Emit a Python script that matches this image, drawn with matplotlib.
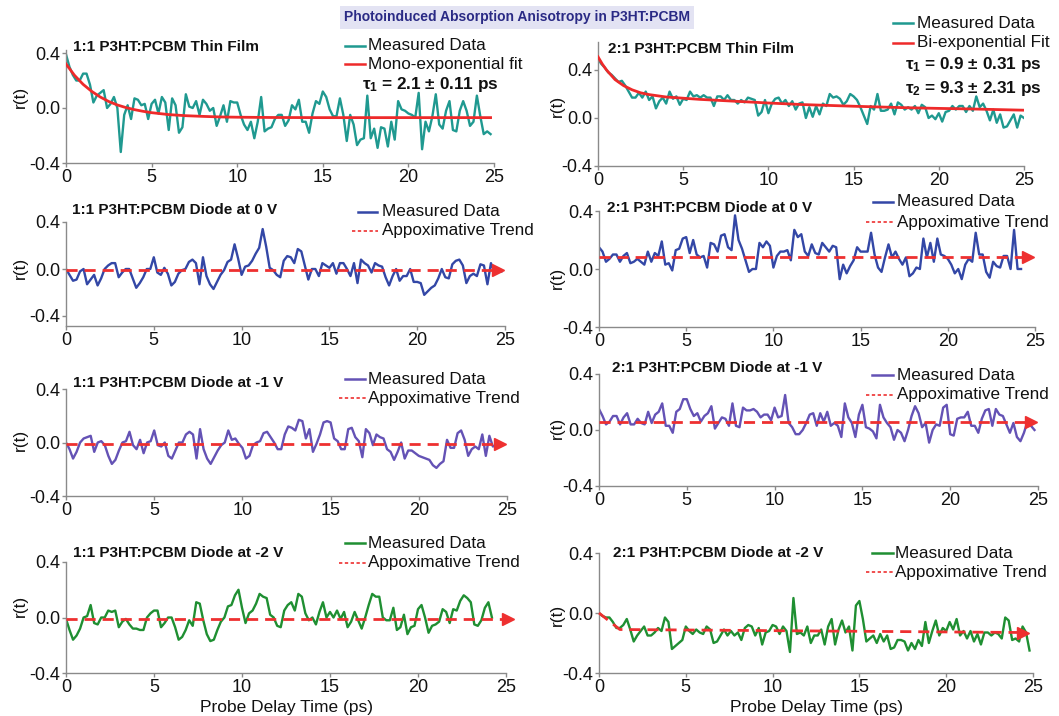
import numpy as np
import matplotlib
matplotlib.use("Agg")
import matplotlib.pyplot as plt
from matplotlib.lines import Line2D

plt.rcParams['font.family'] = ['Liberation Sans', 'DejaVu Sans']
plt.rcParams['axes.unicode_minus'] = False
plt.rcParams['mathtext.fontset'] = 'custom'
plt.rcParams['mathtext.rm'] = 'Liberation Sans'
plt.rcParams['mathtext.bf'] = 'Liberation Sans:bold'
plt.rcParams['mathtext.it'] = 'Liberation Sans:italic'

# ---------------- data ----------------
DT = 0.2  # sampling step of the measured traces (ps)

film11_r = [0.39, 0.30, 0.24, 0.20, 0.20, 0.25, 0.25, 0.17, 0.04, 0.09,
            0.11, 0.13, 0.00, 0.03, 0.08, 0.00, -0.32, -0.05, 0.02, -0.08,
            0.07, 0.06, 0.02, 0.03, -0.08, 0.03, 0.06, -0.04, 0.08, 0.04,
            -0.16, 0.07, 0.02, -0.18, -0.14, 0.10, 0.01, 0.00, 0.05, -0.05,
            0.06, 0.03, -0.02, 0.00, -0.13, -0.06, 0.02, -0.10, 0.05, 0.04,
            0.04, -0.05, -0.12, -0.16, -0.10, -0.22, -0.10, 0.08, -0.17, -0.15,
            -0.14, -0.08, -0.05, -0.05, -0.13, -0.09, 0.02, -0.01, 0.06, -0.10,
            -0.10, -0.18, -0.04, 0.05, 0.03, 0.12, 0.08, -0.01, -0.06, -0.06,
            0.07, -0.05, -0.24, -0.05, -0.12, -0.27, -0.23, -0.22, 0.09, -0.22,
            -0.15, -0.29, -0.14, -0.15, -0.28, -0.10, -0.23, 0.05, -0.01, -0.02,
            -0.04, -0.05, -0.07, 0.11, -0.30, -0.10, -0.17, -0.06, 0.10, -0.12,
            -0.15, -0.02, 0.05, -0.16, -0.17, -0.02, 0.05, -0.02, -0.13, -0.10,
            0.09, -0.06, -0.19, -0.17, -0.19]
fit11_t = [0, 0.5, 1, 1.5, 2, 2.5, 3, 3.5, 4, 4.5, 5, 6, 7, 8, 9, 10, 12, 15, 20, 24.8]
fit11_r = [0.32, 0.237, 0.172, 0.121, 0.080, 0.047, 0.022, 0.003, -0.012, -0.024,
           -0.034, -0.048, -0.056, -0.061, -0.065, -0.067, -0.069, -0.070, -0.070, -0.070]

film21_r = [0.49, 0.45, 0.42, 0.38, 0.36, 0.33, 0.30, 0.31, 0.27, 0.22,
            0.17, 0.17, 0.21, 0.17, 0.22, 0.15, 0.18, 0.08, 0.14, 0.17,
            0.12, 0.22, 0.16, 0.18, 0.11, 0.16, 0.15, 0.22, 0.18, 0.19,
            0.17, 0.19, 0.17, 0.17, 0.10, 0.18, 0.18, 0.15, 0.19, 0.15,
            0.15, 0.12, 0.15, 0.13, 0.17, 0.16, 0.15, 0.02, 0.05, 0.15,
            0.04, 0.12, 0.16, 0.17, 0.12, 0.15, 0.10, 0.14, 0.07, 0.12,
            0.13, 0.00, 0.09, 0.01, 0.10, 0.03, 0.12, 0.10, 0.20, 0.17,
            0.18, 0.16, 0.11, 0.14, 0.20, 0.18, 0.15, 0.09, 0.02, -0.05,
            0.10, 0.07, 0.20, 0.06, 0.06, 0.07, 0.12, 0.03, 0.13, 0.11,
            0.07, 0.09, 0.07, 0.10, 0.04, 0.11, 0.09, 0.00, 0.02, -0.01,
            0.04, -0.03, 0.05, 0.06, 0.10, 0.07, 0.10, 0.10, 0.05, 0.10,
            0.06, 0.18, 0.09, 0.12, 0.06, -0.02, 0.07, -0.04, 0.03, -0.08,
            -0.07, -0.02, 0.03, -0.08, 0.02, 0.00]
fit21_t = [0, 0.25, 0.5, 0.75, 1, 1.5, 2, 2.5, 3, 4, 5, 6, 8, 10, 12, 15, 18, 20, 22, 25]
fit21_r = [0.51, 0.45, 0.40, 0.36, 0.32, 0.27, 0.235, 0.21, 0.195, 0.175,
           0.165, 0.155, 0.14, 0.125, 0.112, 0.098, 0.086, 0.080, 0.075, 0.065]

diode11_0V_r = [0.0, -0.05, -0.10, -0.09, -0.02, 0.0, -0.13, -0.09, -0.05, -0.14,
                -0.08, 0.0, 0.03, 0.05, 0.05, -0.07, -0.03, 0.0, 0.0, -0.08,
                -0.16, -0.12, -0.07, 0.0, 0.0, 0.10, -0.03, -0.05, 0.01, -0.04,
                -0.14, -0.11, -0.04, -0.01, 0.0, 0.06, 0.08, 0.05, -0.13, 0.10,
                -0.06, -0.13, -0.17, -0.11, -0.05, -0.01, 0.06, 0.08, 0.21, 0.09,
                -0.05, 0.02, 0.03, 0.07, 0.13, 0.18, 0.34, 0.19, 0.01, -0.01,
                -0.05, -0.07, 0.07, 0.11, 0.10, 0.05, 0.17, 0.15, 0.03, -0.09,
                0.0, 0.0, -0.06, 0.05, 0.03, 0.01, 0.05, -0.04, 0.05, 0.05,
                0.0, -0.06, 0.05, -0.12, 0.08, 0.05, 0.03, -0.03, 0.05, 0.03,
                0.02, -0.07, -0.14, -0.06, 0.0, -0.10, -0.06, -0.06, 0.0, -0.11,
                -0.11, -0.12, -0.22, -0.19, -0.16, -0.14, -0.08, 0.0, -0.07, -0.08,
                0.04, 0.07, 0.08, 0.03, -0.12, -0.06, -0.04, -0.06, 0.04, 0.03,
                -0.13, 0.05, -0.03, -0.01, -0.02]
diode11_0V_trend_t = [0, 24.6]
diode11_0V_trend_r = [-0.01, -0.01]

diode21_0V_r = [0.15, 0.12, 0.05, 0.07, 0.10, 0.10, 0.05, 0.09, 0.11, 0.04,
                0.05, 0.07, 0.05, 0.03, 0.12, 0.05, 0.11, 0.09, 0.19, 0.03,
                0.04, -0.01, 0.13, 0.14, 0.21, 0.22, 0.11, 0.20, 0.10, 0.08,
                0.09, 0.01, 0.18, 0.17, 0.12, 0.23, 0.24, 0.15, 0.13, 0.37,
                0.20, 0.14, 0.06, -0.02, 0.0, 0.0, 0.18, 0.15, 0.19, 0.16,
                0.01, 0.09, 0.12, 0.12, 0.13, 0.06, 0.27, 0.22, 0.24, 0.12,
                0.09, 0.17, 0.11, 0.10, 0.18, 0.15, 0.12, 0.16, 0.15, -0.07,
                0.03, -0.03, 0.02, 0.06, 0.15, 0.12, 0.12, 0.12, 0.25, 0.10,
                0.01, -0.02, 0.08, 0.17, 0.08, 0.12, 0.07, 0.03, 0.08, -0.05,
                -0.03, 0.01, 0.0, 0.21, 0.08, 0.18, 0.05, 0.21, 0.10, 0.09,
                0.07, 0.03, -0.03, 0.0, -0.07, 0.03, 0.07, 0.05, 0.25, 0.10,
                0.10, -0.02, -0.06, 0.05, 0.02, 0.01, 0.09, 0.09, 0.0, 0.27,
                0.0, 0.0]
diode21_0V_trend_t = [0, 24.6]
diode21_0V_trend_r = [0.08, 0.08]

diode11_m1V_r = [0.0, -0.05, -0.12, -0.07, 0.0, 0.03, 0.04, 0.05, -0.07, 0.0,
                 0.01, -0.02, -0.10, -0.16, -0.13, -0.06, 0.0, 0.01, 0.08, -0.02,
                 -0.05, 0.02, -0.08, 0.0, 0.01, 0.09, -0.02, -0.03, 0.0, -0.10,
                 -0.12, -0.06, 0.0, 0.0, 0.06, 0.08, 0.06, -0.12, 0.10, -0.05,
                 -0.12, -0.16, -0.11, -0.06, -0.02, 0.0, 0.09, 0.02, 0.03, -0.01,
                 -0.04, -0.12, -0.10, -0.02, 0.0, 0.01, 0.07, 0.08, 0.04, 0.0,
                 -0.05, -0.05, 0.06, 0.12, 0.11, 0.09, 0.17, 0.16, 0.03, 0.10,
                 -0.07, -0.01, 0.06, 0.15, 0.16, 0.15, 0.03, 0.01, -0.05, -0.05,
                 0.10, 0.11, 0.04, 0.01, -0.11, 0.10, 0.07, -0.02, 0.06, 0.04,
                 0.03, -0.05, -0.07, -0.13, -0.07, 0.0, -0.12, -0.06, -0.06, -0.08,
                 -0.10, -0.11, -0.12, -0.13, -0.17, -0.19, -0.16, -0.14, 0.02, -0.04,
                 -0.04, 0.07, 0.09, 0.02, -0.10, -0.05, -0.03, -0.05, 0.06, -0.10,
                 0.05, -0.03, -0.02]
diode11_m1V_trend_t = [0, 24.6]
diode11_m1V_trend_r = [-0.01, -0.01]

diode21_m1V_r = [0.15, 0.10, 0.04, 0.06, 0.10, 0.10, 0.04, 0.09, 0.12, 0.04,
                 0.04, 0.08, 0.05, 0.04, 0.13, 0.05, 0.11, 0.13, 0.19, 0.03,
                 0.03, -0.02, 0.13, 0.15, 0.22, 0.22, 0.15, 0.10, 0.12, 0.06,
                 0.10, 0.12, 0.17, 0.01, 0.05, 0.09, 0.08, 0.03, 0.19, 0.03,
                 0.02, 0.16, 0.14, 0.14, 0.15, 0.13, 0.09, 0.11, 0.11, 0.07,
                 0.16, 0.09, 0.10, 0.25, 0.05, 0.02, -0.03, -0.03, 0.0, 0.05,
                 0.11, 0.12, 0.03, 0.12, 0.06, 0.13, 0.03, 0.05, 0.03, -0.05,
                 0.19, 0.09, 0.05, -0.05, 0.11, 0.18, 0.02, 0.01, -0.01, -0.06,
                 0.18, 0.09, 0.05, 0.02, -0.07, 0.0, -0.02, -0.08, 0.0, 0.10,
                 0.17, 0.12, 0.02, 0.05, -0.09, 0.0, 0.04, 0.03, 0.16, 0.18,
                 -0.03, -0.04, 0.08, 0.09, 0.09, 0.13, 0.03, 0.03, -0.02, 0.08,
                 0.14, 0.15, 0.03, 0.15, 0.11, 0.10, 0.04, -0.02, 0.05, -0.05,
                 -0.08, -0.02, 0.06, 0.03, 0.0]
diode21_m1V_trend_t = [0, 24.6]
diode21_m1V_trend_r = [0.06, 0.06]

diode11_m2V_r = [-0.01, -0.09, -0.16, -0.13, -0.08, 0.0, 0.01, 0.09, -0.04, -0.05,
                 0.0, 0.0, 0.05, 0.04, 0.05, -0.07, -0.03, -0.01, -0.05, -0.08,
                 -0.08, -0.09, -0.09, 0.0, 0.03, 0.05, 0.05, -0.07, -0.04, 0.0,
                 0.0, -0.07, -0.16, -0.14, -0.09, -0.02, -0.06, 0.11, 0.10, -0.02,
                 -0.12, -0.17, -0.16, -0.09, -0.03, 0.0, 0.08, 0.09, 0.16, 0.20,
                 0.07, -0.04, 0.03, 0.05, 0.10, 0.17, 0.15, 0.14, 0.02, 0.0,
                 -0.06, -0.07, 0.05, 0.09, 0.11, 0.05, 0.17, 0.15, 0.03, -0.02,
                 0.0, -0.05, 0.04, 0.11, 0.0, 0.04, 0.0, 0.05, -0.01, 0.04,
                 -0.07, -0.03, 0.04, -0.02, -0.08, 0.0, 0.09, 0.17, 0.15, 0.15,
                 0.0, -0.02, -0.02, 0.07, -0.09, -0.07, 0.02, -0.12, -0.07, -0.06,
                 0.06, 0.09, 0.0, -0.11, -0.06, -0.05, -0.03, 0.06, 0.04, -0.04,
                 0.06, 0.05, 0.12, 0.16, 0.14, 0.11, -0.05, -0.06, -0.02, 0.07,
                 0.11, 0.0]
diode11_m2V_trend_t = [0, 25.1]
diode11_m2V_trend_r = [-0.01, -0.01]

diode21_m2V_r = [0.0, -0.02, -0.03, -0.03, -0.06, -0.10, -0.10, -0.08, -0.04, -0.11,
                 -0.19, -0.15, -0.12, -0.09, -0.15, -0.15, -0.13, -0.10, -0.12, -0.03,
                 -0.06, -0.24, -0.22, -0.20, -0.18, -0.09, -0.12, -0.14, -0.11, -0.13,
                 -0.14, -0.09, -0.11, -0.20, -0.19, -0.15, -0.11, -0.15, -0.12, -0.15,
                 -0.13, -0.18, -0.10, -0.08, -0.09, -0.15, -0.10, -0.21, -0.13, -0.12,
                 -0.08, -0.09, -0.14, -0.09, -0.12, -0.26, 0.10, -0.14, -0.13, -0.15,
                 -0.09, -0.20, -0.15, -0.15, -0.11, -0.21, -0.09, -0.04, -0.21, -0.11,
                 -0.05, -0.13, -0.09, -0.25, 0.05, 0.08, -0.04, -0.19, -0.17, -0.15,
                 -0.20, -0.14, -0.19, -0.15, -0.24, -0.23, -0.18, -0.18, -0.19, -0.25,
                 -0.20, -0.24, -0.18, -0.22, -0.06, -0.20, -0.12, -0.05, -0.15, -0.10,
                 -0.12, -0.06, -0.11, -0.04, -0.15, -0.12, -0.17, -0.12, -0.19, -0.14,
                 -0.21, -0.13, -0.13, -0.15, -0.13, -0.14, -0.17, -0.03, -0.05, -0.18,
                 -0.17, -0.19, -0.09, -0.13, -0.25]
diode21_m2V_trend_t = [0, 1.2, 24.4]
diode21_m2V_trend_r = [0.0, -0.11, -0.13]

x_ticks = [0, 5, 10, 15, 20, 25]
y_ticks = [-0.4, 0.0, 0.4]
y_ticklabels = ['-0.4', '0.0', '0.4']

# ---------------- colours ----------------
C_TEAL = '#1f9990'
C_FIT = '#ee2a2a'
C_BLUE = '#3347a6'
C_PURPLE = '#6452b5'
C_GREEN = '#1f8f32'
C_TREND = '#ee3030'
C_AXIS = '#8a8a8a'

W, H = 1059, 716
fig = plt.figure(figsize=(W / 100, H / 100), dpi=100)


def fx(x):
    return x / W


def fy(y):
    return 1 - y / H


def make_axes(x0, x1, y_p4, y_m4, ylim):
    scale = (y_m4 - y_p4) / 0.8
    top = y_p4 - (ylim[1] - 0.4) * scale
    bot = y_m4 + (-0.4 - ylim[0]) * scale
    ax = fig.add_axes([fx(x0), fy(bot), (x1 - x0) / W, (bot - top) / H])
    ax.set_xlim(0, 25)
    ax.set_ylim(*ylim)
    for s in ('top', 'right'):
        ax.spines[s].set_visible(False)
    for s in ('left', 'bottom'):
        ax.spines[s].set_color(C_AXIS)
        ax.spines[s].set_linewidth(1.0)
    ax.set_xticks(x_ticks)
    ax.set_yticks(y_ticks)
    ax.set_yticklabels(y_ticklabels)
    ax.tick_params(axis='both', colors=C_AXIS, labelcolor='#111111', labelsize=13,
                   length=3, width=1, direction='out', pad=1)
    ax.patch.set_alpha(0)
    return ax


def times(r):
    return np.arange(len(r)) * DT


def legend_line(x0, x1, y, color, ls='-', lw=1.8):
    fig.add_artist(Line2D([fx(x0), fx(x1)], [fy(y), fy(y)], color=color, lw=lw,
                          ls=ls, transform=fig.transFigure))


def legend_text(x, y, s, **kw):
    fig.text(fx(x), fy(y), s, ha='left', va='center', fontsize=12.3, color='#111111', **kw)


def title_text(x, y, s):
    fig.text(fx(x), fy(y), s, ha='left', va='center', fontsize=11, fontweight='bold',
             color='#111111')


def ylab(x, y):
    fig.text(fx(x), fy(y), 'r(t)', rotation=90, ha='center', va='center', fontsize=12.5,
             color='#111111')


def trend(ax, t, r):
    ax.plot(t, r, color=C_TREND, lw=2.0, ls=(0, (4, 2.5)), clip_on=False, zorder=4)
    ax.plot([t[-1]], [r[-1]], marker='>', ms=8, color=C_TREND, mec=C_TREND,
            clip_on=False, zorder=5)


# ---------------- figure title ----------------
fig.text(fx(517), fy(17.5), 'Photoinduced Absorption Anisotropy in P3HT:PCBM',
         ha='center', va='center', fontsize=10, fontweight='bold', color='#2a2a85',
         bbox=dict(boxstyle='square,pad=0.3', fc='#e3e3f3', ec='none'))

# ---------------- row 1: thin films ----------------
axA = make_axes(66, 494, 53, 163, (-0.4, 0.42))
axA.plot(times(film11_r), film11_r, color=C_TEAL, lw=1.7, zorder=2)
axA.plot(fit11_t, fit11_r, color=C_FIT, lw=2.0, zorder=3)
title_text(73, 47, '1:1 P3HT:PCBM Thin Film')
legend_line(345, 365, 46, C_TEAL)
legend_text(368, 46, 'Measured Data')
legend_line(345, 365, 64, C_FIT)
legend_text(368, 64, 'Mono-exponential fit')
legend_text(362, 85, r'$\mathbf{\tau_1}$' + ' = 2.1 ± 0.11 ps', fontweight='bold')
ylab(20, 97)

axB = make_axes(598, 1024, 70, 166, (-0.4, 0.63))
axB.plot(times(film21_r), film21_r, color=C_TEAL, lw=1.7, zorder=2)
axB.plot(fit21_t, fit21_r, color=C_FIT, lw=2.0, zorder=3)
title_text(608, 49, '2:1 P3HT:PCBM Thin Film')
legend_line(893, 913, 23, C_TEAL)
legend_text(917, 23, 'Measured Data')
legend_line(893, 913, 43, C_FIT)
legend_text(917, 43, 'Bi-exponential Fit')
legend_text(905, 64, r'$\mathbf{\tau_1}$' + ' = 0.9 ± 0.31 ps', fontweight='bold')
legend_text(905, 89, r'$\mathbf{\tau_2}$' + ' = 9.3 ± 2.31 ps', fontweight='bold')
ylab(557, 106)

# ---------------- row 2: 0 V ----------------
axC = make_axes(66, 505, 222, 316, (-0.485, 0.4))
axC.plot(times(diode11_0V_r), diode11_0V_r, color=C_BLUE, lw=1.7, zorder=2)
trend(axC, diode11_0V_trend_t, diode11_0V_trend_r)
title_text(72, 210, '1:1 P3HT:PCBM Diode at 0 V')
legend_line(358, 377, 212, C_BLUE)
legend_text(382, 212, 'Measured Data')
legend_line(352, 378, 231, C_TREND, ls=(0, (2, 1.5)), lw=1.2)
legend_text(382, 231, 'Appoximative Trend')
ylab(20, 268)

axD = make_axes(599, 1035, 211, 327, (-0.4, 0.4))
axD.plot(times(diode21_0V_r), diode21_0V_r, color=C_BLUE, lw=1.7, zorder=2)
trend(axD, diode21_0V_trend_t, diode21_0V_trend_r)
title_text(607, 208, '2:1 P3HT:PCBM Diode at 0 V')
legend_line(873, 893, 202, C_BLUE)
legend_text(897, 202, 'Measured Data')
legend_line(866, 893, 222, C_TREND, ls=(0, (2, 1.5)), lw=1.2)
legend_text(897, 222, 'Appoximative Trend')
ylab(557, 278)

# ---------------- row 3: -1 V ----------------
axE = make_axes(66, 507, 389, 496, (-0.4, 0.4))
axE.plot(times(diode11_m1V_r), diode11_m1V_r, color=C_PURPLE, lw=1.7, zorder=2)
trend(axE, diode11_m1V_trend_t, diode11_m1V_trend_r)
title_text(73, 383, '1:1 P3HT:PCBM Diode at -1 V')
legend_line(345, 365, 379, C_PURPLE)
legend_text(368, 379, 'Measured Data')
legend_line(339, 366, 398, C_TREND, ls=(0, (2, 1.5)), lw=1.2)
legend_text(368, 398, 'Appoximative Trend')
ylab(20, 440)

axF = make_axes(599, 1038, 374, 486, (-0.4, 0.4))
axF.plot(times(diode21_m1V_r), diode21_m1V_r, color=C_PURPLE, lw=1.7, zorder=2)
trend(axF, diode21_m1V_trend_t, diode21_m1V_trend_r)
title_text(612, 368, '2:1 P3HT:PCBM Diode at -1 V')
legend_line(872, 893, 375, C_PURPLE)
legend_text(897, 375, 'Measured Data')
legend_line(866, 894, 395, C_TREND, ls=(0, (2, 1.5)), lw=1.2)
legend_text(897, 395, 'Appoximative Trend')
ylab(557, 428)

# ---------------- row 4: -2 V ----------------
axG = make_axes(66, 506, 562, 673, (-0.4, 0.4))
axG.plot(times(diode11_m2V_r), diode11_m2V_r, color=C_GREEN, lw=1.7, zorder=2)
trend(axG, diode11_m2V_trend_t, diode11_m2V_trend_r)
title_text(73, 553, '1:1 P3HT:PCBM Diode at -2 V')
legend_line(345, 365, 543, C_GREEN)
legend_text(368, 543, 'Measured Data')
legend_line(339, 366, 563, C_TREND, ls=(0, (2, 1.5)), lw=1.2)
legend_text(368, 563, 'Appoximative Trend')
ylab(20, 606)
axG.set_xlabel('Probe Delay Time (ps)', fontsize=12.5, color='#111111', labelpad=3)

axH = make_axes(599, 1033, 553, 673, (-0.4, 0.4))
axH.plot(times(diode21_m2V_r), diode21_m2V_r, color=C_GREEN, lw=1.7, zorder=2)
trend(axH, diode21_m2V_trend_t, diode21_m2V_trend_r)
title_text(613, 553, '2:1 P3HT:PCBM Diode at -2 V')
legend_line(872, 893, 553, C_GREEN)
legend_text(895, 553, 'Measured Data')
legend_line(866, 893, 572, C_TREND, ls=(0, (2, 1.5)), lw=1.2)
legend_text(895, 572, 'Appoximative Trend')
ylab(557, 615)
axH.set_xlabel('Probe Delay Time (ps)', fontsize=12.5, color='#111111', labelpad=3)

fig.savefig('out.png', dpi=100, facecolor='white')
